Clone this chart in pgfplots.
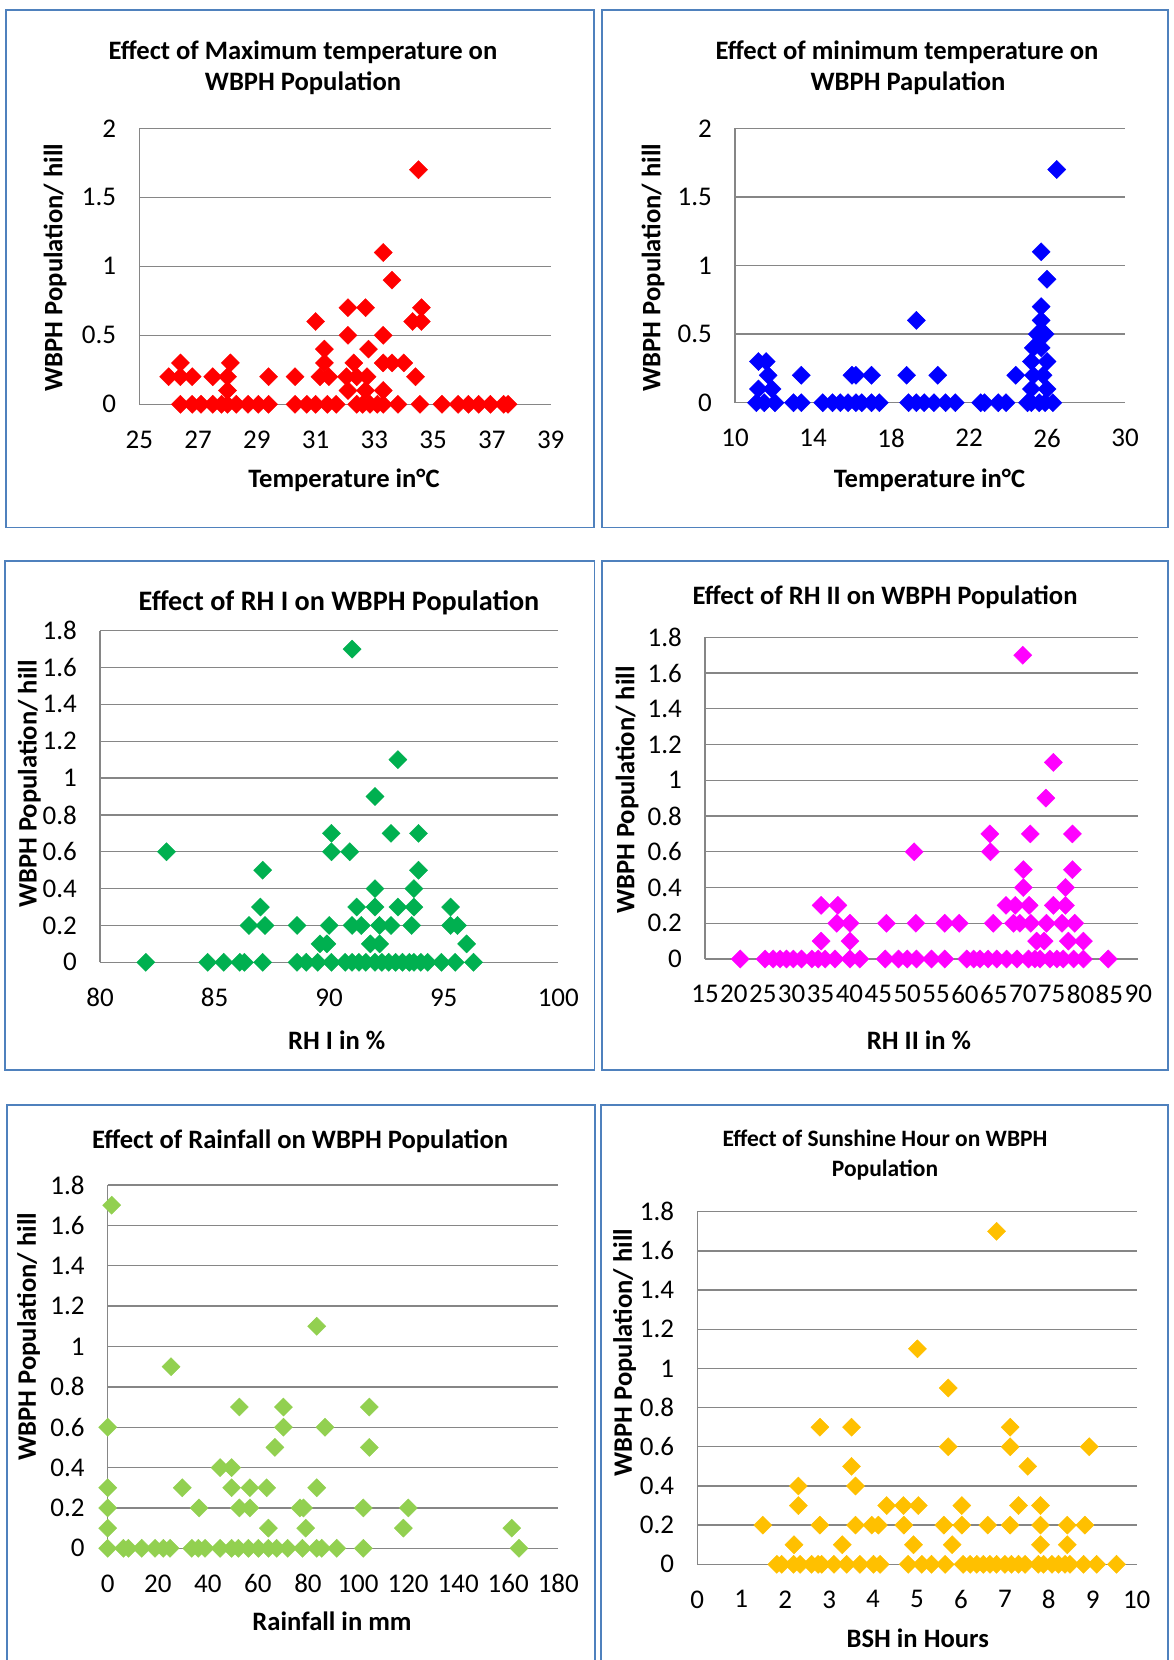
\documentclass[border=0pt]{standalone}
\usepackage{fontspec}
\setmainfont{Carlito}
\usepackage{pgfplots}
\pgfplotsset{compat=1.18}
\definecolor{frameblue}{RGB}{79,129,189}
\definecolor{gridgray}{RGB}{134,134,134}
\definecolor{c1}{RGB}{255,0,0}
\definecolor{c2}{RGB}{0,0,255}
\definecolor{c3}{RGB}{0,176,80}
\definecolor{c4}{RGB}{255,0,255}
\definecolor{c5}{RGB}{146,208,80}
\definecolor{c6}{RGB}{255,192,0}
\newcommand\titlefont{\fontsize{26.6}{32}\selectfont\bfseries}
\newcommand\bigtitlefont{\fontsize{28.2}{34}\selectfont\bfseries}
\newcommand\smalltitlefont{\fontsize{23.5}{28}\selectfont\bfseries}
\newcommand\labfont{\fontsize{26.6}{32}\selectfont\bfseries}
\pgfplotsset{
  panel/.style={
    scale only axis, anchor=south west, clip=false,
    axis lines=left, axis line style={-, draw=gridgray, line width=1.3pt},
    ymajorgrids, major grid style={draw=gridgray, line width=1.3pt},
    major tick length=0pt, tick style={draw=none},
    ymin=0,
    tick label style={font=\fontsize{27}{32}\selectfont, inner sep=0pt},
    yticklabel style={anchor=east, xshift=-23pt},
    xticklabel style={anchor=north, yshift=-26pt},
  },
  dmark/.style={only marks, mark=square*, mark size=6.4pt, color=#1, mark options={rotate=45, draw=none, fill=#1}},
}
\begin{document}
\begin{tikzpicture}
\useasboundingbox (0,0) rectangle (1173pt,-1660pt);
\fill[white] (0,0) rectangle (1173pt,-1660pt);
% frames
\draw[frameblue, line width=1.5pt] (6pt,-10pt) rectangle (594pt,-527.7pt);
\draw[frameblue, line width=1.5pt] (602pt,-10pt) rectangle (1168pt,-527.7pt);
\draw[frameblue, line width=1.5pt] (5pt,-561pt) rectangle (594.4pt,-1070pt);
\draw[frameblue, line width=1.5pt] (602.2pt,-561pt) rectangle (1168pt,-1070pt);
\draw[frameblue, line width=1.5pt] (7pt,-1665pt) -- (7pt,-1105pt) -- (595pt,-1105pt) -- (595pt,-1665pt);
\draw[frameblue, line width=1.5pt] (601pt,-1665pt) -- (601pt,-1105pt) -- (1168pt,-1105pt) -- (1168pt,-1665pt);

% Panel 1
\begin{axis}[panel, at={(139.3pt,-404.3pt)}, width=411.4pt, height=276pt,
  xmin=25, xmax=39, ymax=2,
  xtick={25,27,29,31,33,35,37,39}, xticklabels={25,27,29,31,33,35,37,39},
  ytick={0,0.5,1,1.5,2}, yticklabels={0,0.5,1,1.5,2}]
\addplot[dmark=c1] coordinates {
(34.5,1.7)(33.3,1.1)(33.6,0.9)(32.1,0.7)(32.7,0.7)(34.6,0.7)
(31.0,0.6)(34.3,0.6)(34.6,0.6)(32.1,0.5)(33.3,0.5)(31.3,0.4)(32.8,0.4)
(26.4,0.3)(28.1,0.3)(31.3,0.3)(32.3,0.3)(33.3,0.3)(33.6,0.3)(34.0,0.3)
(26.0,0.2)(26.4,0.2)(26.8,0.2)(27.5,0.2)(28.0,0.2)(29.4,0.2)(30.3,0.2)(31.15,0.2)(31.45,0.2)(32.05,0.2)(32.4,0.2)(32.75,0.2)(34.4,0.2)
(28.0,0.1)(32.1,0.1)(32.7,0.1)(33.3,0.1)
(26.4,0)(26.8,0)(27.1,0)(27.5,0)(27.8,0)(28.0,0)(28.3,0)(28.7,0)(29.05,0)(29.4,0)(30.3,0)(30.7,0)(31.0,0)(31.4,0)(31.7,0)(32.4,0)(32.6,0)(32.85,0)(33.1,0)(33.3,0)(33.8,0)(34.55,0)(35.3,0)(35.85,0)(36.2,0)(36.55,0)(36.95,0)(37.4,0)(37.55,0)
};
\end{axis}

% Panel 2
\begin{axis}[panel, at={(735pt,-402.7pt)}, width=390pt, height=274.4pt,
  xmin=10, xmax=30, ymax=2,
  xtick={10,14,18,22,26,30}, xticklabels={10,14,18,22,26,30},
  ytick={0,0.5,1,1.5,2}, yticklabels={0,0.5,1,1.5,2}]
\addplot[dmark=c2] coordinates {
(26.5,1.7)(25.7,1.1)(26.0,0.9)(19.3,0.6)
(25.7,0.7)(25.7,0.6)(25.5,0.5)(25.9,0.5)(25.3,0.4)(25.7,0.4)
(11.2,0.3)(11.6,0.3)(25.2,0.3)(26.0,0.3)
(11.7,0.2)(13.4,0.2)(16.0,0.2)(16.2,0.2)(17.0,0.2)(18.8,0.2)(20.4,0.2)(24.4,0.2)(25.3,0.2)(25.8,0.2)
(11.2,0.1)(11.9,0.1)(25.2,0.1)(26.0,0.1)
(11.1,0)(11.5,0)(12.05,0)(13.0,0)(13.4,0)(14.5,0)(15.0,0)(15.4,0)(15.8,0)(16.2,0)(16.5,0)(17.0,0)(17.4,0)(18.9,0)(19.3,0)(19.7,0)(20.2,0)(20.8,0)(21.3,0)(22.6,0)(22.8,0)(23.5,0)(23.9,0)(25.0,0)(25.2,0)(25.6,0)(25.9,0)(26.3,0)
};
\end{axis}

% Panel 3
\begin{axis}[panel, at={(100pt,-962.3pt)}, width=458.3pt, height=331.6pt,
  xmin=80, xmax=100, ymax=1.8,
  xtick={80,85,90,95,100}, xticklabels={80,85,90,95,100},
  ytick={0,0.2,0.4,0.6,0.8,1,1.2,1.4,1.6,1.8}, yticklabels={0,0.2,0.4,0.6,0.8,1,1.2,1.4,1.6,1.8}]
\addplot[dmark=c3] coordinates {
(91.0,1.7)(93.0,1.1)(92.0,0.9)(90.1,0.7)(92.7,0.7)(93.9,0.7)(82.9,0.6)(90.1,0.6)(90.9,0.6)(87.1,0.5)(93.9,0.5)(92.0,0.4)(93.7,0.4)
(87.0,0.3)(91.2,0.3)(92.0,0.3)(93.0,0.3)(93.7,0.3)(95.3,0.3)
(86.5,0.2)(87.2,0.2)(88.6,0.2)(90.0,0.2)(91.0,0.2)(91.4,0.2)(92.2,0.2)(92.7,0.2)(93.6,0.2)(95.3,0.2)(95.6,0.2)
(89.6,0.1)(89.9,0.1)(91.8,0.1)(92.2,0.1)(96.0,0.1)
(82.0,0)(84.7,0)(85.4,0)(86.1,0)(86.3,0)(87.1,0)(88.6,0)(89.0,0)(89.5,0)(90.1,0)(90.7,0)(91.0,0)(91.3,0)(91.6,0)(92.0,0)(92.3,0)(92.6,0)(92.9,0)(93.2,0)(93.5,0)(93.7,0)(94.0,0)(94.3,0)(94.9,0)(95.5,0)(96.3,0)
};
\end{axis}

% Panel 4
\begin{axis}[panel, at={(705pt,-959pt)}, width=433.3pt, height=321.7pt,
  xmin=15, xmax=90, ymax=1.8,
  xtick={15,20,25,30,35,40,45,50,55,60,65,70,75,80,85,90}, xticklabels={15,20,25,30,35,40,45,50,55,60,65,70,75,80,85,90},
  ytick={0,0.2,0.4,0.6,0.8,1,1.2,1.4,1.6,1.8}, yticklabels={0,0.2,0.4,0.6,0.8,1,1.2,1.4,1.6,1.8}]
\addplot[dmark=c4] coordinates {
(70,1.7)(75.3,1.1)(74.0,0.9)(64.3,0.7)(71.3,0.7)(78.6,0.7)(51.2,0.6)(64.4,0.6)(70.1,0.5)(78.6,0.5)(70.1,0.4)(77.4,0.4)
(35.1,0.3)(38.0,0.3)(67.1,0.3)(68.7,0.3)(71.1,0.3)(75.3,0.3)(77.4,0.3)
(37.8,0.2)(40.1,0.2)(46.4,0.2)(51.5,0.2)(56.5,0.2)(59.0,0.2)(64.9,0.2)(68.4,0.2)(69.5,0.2)(71.4,0.2)(74.1,0.2)(76.8,0.2)(79.0,0.2)
(35.1,0.1)(40.1,0.1)(72.4,0.1)(73.7,0.1)(77.9,0.1)(80.5,0.1)
(21.1,0)(25.4,0)(26.8,0)(28.0,0)(29.1,0)(30.3,0)(31.7,0)(33.5,0)(34.6,0)(35.8,0)(37.5,0)(40.1,0)(41.8,0)(46.2,0)(48.5,0)(50.0,0)(51.6,0)(54.2,0)(56.5,0)(60.3,0)(61.5,0)(62.6,0)(64.0,0)(65.5,0)(67.2,0)(69.0,0)(71.0,0)(72.1,0)(73.0,0)(74.7,0)(75.9,0)(77.0,0)(78.8,0)(80.5,0)(84.8,0)
};
\end{axis}

% Panel 5
\begin{axis}[panel, at={(107.7pt,-1548.3pt)}, width=450.6pt, height=363.3pt,
  xmin=0, xmax=180, ymax=1.8,
  xtick={0,20,40,60,80,100,120,140,160,180}, xticklabels={0,20,40,60,80,100,120,140,160,180},
  ytick={0,0.2,0.4,0.6,0.8,1,1.2,1.4,1.6,1.8}, yticklabels={0,0.2,0.4,0.6,0.8,1,1.2,1.4,1.6,1.8}]
\addplot[dmark=c5] coordinates {
(1.6,1.7)(83.5,1.1)(25.3,0.9)(52.6,0.7)(70.2,0.7)(104.5,0.7)(0,0.6)(70.2,0.6)(86.8,0.6)(66.8,0.5)(104.5,0.5)(44.9,0.4)(49.5,0.4)
(0,0.3)(29.8,0.3)(49.5,0.3)(56.8,0.3)(63.5,0.3)(83.5,0.3)
(0,0.2)(36.5,0.2)(52.6,0.2)(56.8,0.2)(76.8,0.2)(78.2,0.2)(102.1,0.2)(120.1,0.2)
(0,0.1)(64.2,0.1)(79.1,0.1)(118.1,0.1)(161.4,0.1)
(0,0)(6.3,0)(8.3,0)(13.6,0)(18.9,0)(22.2,0)(24.9,0)(33.6,0)(36.2,0)(38.9,0)(44.9,0)(49.5,0)(52.2,0)(56.2,0)(60.2,0)(64.2,0)(67.5,0)(71.9,0)(77.8,0)(83.5,0)(85.5,0)(91.5,0)(102.1,0)(164.3,0)
};
\end{axis}

% Panel 6
\begin{axis}[panel, at={(697.3pt,-1564.3pt)}, width=439.4pt, height=352.6pt,
  xmin=0, xmax=10, ymax=1.8,
  xtick={0,1,2,3,4,5,6,7,8,9,10}, xticklabels={0,1,2,3,4,5,6,7,8,9,10},
  ytick={0,0.2,0.4,0.6,0.8,1,1.2,1.4,1.6,1.8}, yticklabels={0,0.2,0.4,0.6,0.8,1,1.2,1.4,1.6,1.8}]
\addplot[dmark=c6] coordinates {
(6.81,1.7)(5.01,1.1)(5.71,0.9)(2.79,0.7)(3.51,0.7)(7.12,0.7)(5.71,0.6)(7.12,0.6)(8.92,0.6)(3.51,0.5)(7.52,0.5)(2.30,0.4)(3.60,0.4)
(2.30,0.3)(4.31,0.3)(4.69,0.3)(5.03,0.3)(6.02,0.3)(7.31,0.3)(7.81,0.3)
(1.49,0.2)(2.79,0.2)(3.60,0.2)(3.97,0.2)(4.12,0.2)(4.70,0.2)(5.61,0.2)(6.02,0.2)(6.61,0.2)(7.12,0.2)(7.81,0.2)(8.42,0.2)(8.82,0.2)
(2.20,0.1)(3.30,0.1)(4.92,0.1)(5.80,0.1)(7.81,0.1)(8.42,0.1)
(1.81,0)(1.92,0)(2.19,0)(2.34,0)(2.60,0)(2.75,0)(2.83,0)(3.11,0)(3.40,0)(3.70,0)(4.01,0)(4.16,0)(4.80,0)(5.11,0)(5.33,0)(5.64,0)(6.05,0)(6.21,0)(6.36,0)(6.51,0)(6.66,0)(6.81,0)(7.00,0)(7.15,0)(7.31,0)(7.46,0)(7.76,0)(7.88,0)(8.07,0)(8.22,0)(8.37,0)(8.48,0)(8.79,0)(9.09,0)(9.54,0)
};
\end{axis}

% Titles
\node[anchor=base, font=\titlefont] at (303pt,-59.3pt) {Effect of Maximum temperature on};
\node[anchor=base, font=\titlefont] at (303pt,-90.7pt) {WBPH Population};
\node[anchor=base, font=\titlefont] at (907pt,-59.3pt) {Effect of minimum temperature on};
\node[anchor=base, font=\titlefont] at (908pt,-90.7pt) {WBPH Papulation};
\node[anchor=base, font=\bigtitlefont] at (339pt,-610pt) {Effect of RH I on WBPH Population};
\node[anchor=base, font=\titlefont] at (885pt,-604pt) {Effect of RH II on WBPH Population};
\node[anchor=base, font=\titlefont] at (300pt,-1148pt) {Effect of Rainfall on WBPH Population};
\node[anchor=base, font=\smalltitlefont] at (885pt,-1146.5pt) {Effect of Sunshine Hour on WBPH};
\node[anchor=base, font=\smalltitlefont] at (885pt,-1176pt) {Population};

% x labels
\node[anchor=base, font=\labfont] at (344pt,-487pt) {Temperature in°C};
\node[anchor=base, font=\labfont] at (929.5pt,-487pt) {Temperature in°C};
\node[anchor=base, font=\labfont] at (336.7pt,-1049pt) {RH I in \%};
\node[anchor=base, font=\labfont] at (919pt,-1049pt) {RH II in \%};
\node[anchor=base, font=\labfont] at (332pt,-1630pt) {Rainfall in mm};
\node[anchor=base, font=\labfont] at (917.7pt,-1647.7pt) {BSH in Hours};

% y labels
\node[rotate=90, font=\labfont] at (55pt,-267.5pt) {WBPH Population/ hill};
\node[rotate=90, font=\labfont] at (653pt,-267.5pt) {WBPH Population/ hill};
\node[rotate=90, font=\labfont] at (29.3pt,-784pt) {WBPH Population/ hill};
\node[rotate=90, font=\labfont] at (627pt,-790pt) {WBPH Population/ hill};
\node[rotate=90, font=\labfont] at (28.6pt,-1336.6pt) {WBPH Population/ hill};
\node[rotate=90, font=\labfont] at (624.6pt,-1352.6pt) {WBPH Population/ hill};
\end{tikzpicture}
\end{document}
